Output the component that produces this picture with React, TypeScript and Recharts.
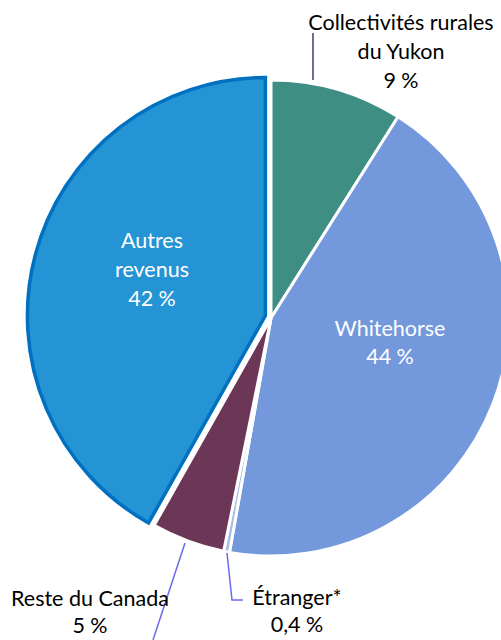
import React from "react";
import { PieChart, Pie, Cell } from "recharts";

const categories = ["Collectivités rurales du Yukon", "Whitehorse", "Étranger*", "Reste du Canada", "Autres revenus"];
const values = [9, 44, 0.4, 5, 42];
const valueLabels = ["9 %", "44 %", "0,4 %", "5 %", "42 %"];
const colors = ["#3E8E84", "#7498DC", "#A9BCE8", "#6C3756", "#2594D5"];

const data = categories.map((name, i) => ({ name, value: values[i] }));

const FONT = "Lato, 'Open Sans', sans-serif";
const FS = 21.5;
const EXPLODED = 4;

const renderLabel = (p: any) => {
  const { cx, cy, index } = p;
  const t = (x: number, y: number, s: string, fill: string, key: string) => (
    <text key={key} x={cx + x} y={cy + y} textAnchor="middle" dominantBaseline="central" fill={fill} fontSize={FS} fontFamily={FONT}>
      {s}
    </text>
  );
  if (index === 0) {
    return (
      <g>
        <line x1={cx + 42} y1={cy - 285} x2={cx + 42} y2={cy - 238} stroke="#3B3B7A" strokeWidth={1.5} />
        {t(130, -296, "Collectivités rurales", "#000", "a")}
        {t(130, -267, "du Yukon", "#000", "b")}
        {t(130, -238, valueLabels[0], "#000", "c")}
      </g>
    );
  }
  if (index === 1) {
    return (
      <g>
        {t(119, 10, "Whitehorse", "#fff", "a")}
        {t(119, 38, valueLabels[1], "#fff", "b")}
      </g>
    );
  }
  if (index === 2) {
    return (
      <g>
        <polyline points={`${cx - 44},${cy + 235} ${cx - 39},${cy + 282} ${cx - 28},${cy + 282}`} fill="none" stroke="#6A6AF0" strokeWidth={1.5} />
        {t(26, 279, "Étranger*", "#000", "a")}
        {t(26, 306, valueLabels[2], "#000", "b")}
      </g>
    );
  }
  if (index === 3) {
    return (
      <g>
        <line x1={cx - 86} y1={cy + 225} x2={cx - 118} y2={cy + 322} stroke="#6A6AF0" strokeWidth={1.5} />
        {t(-181, 280, "Reste du Canada", "#000", "a")}
        {t(-181, 307, valueLabels[3], "#000", "b")}
      </g>
    );
  }
  return (
    <g>
      {t(-119, -78, "Autres", "#fff", "a")}
      {t(-119, -49, "revenus", "#fff", "b")}
      {t(-119, -20, valueLabels[4], "#fff", "c")}
    </g>
  );
};

export default function App() {
  const cx = 271;
  const cy = 318;
  return (
    <div style={{ position: "absolute", left: 0, top: 0, background: "#fff" }}>
      <PieChart width={501} height={640} margin={{ top: 0, right: 0, bottom: 0, left: 0 }}>
        <Pie
          data={data}
          dataKey="value"
          nameKey="name"
          cx={cx}
          cy={cy}
          outerRadius={238}
          startAngle={90}
          endAngle={-270}
          isAnimationActive={false}
          stroke="#fff"
          strokeWidth={3}
          label={renderLabel}
          labelLine={false}
        >
          {data.map((d, i) => (
            <Cell key={d.name} fill={i === 4 ? "transparent" : colors[i]} stroke={i === 4 ? "none" : "#fff"} strokeWidth={3} />
          ))}
        </Pie>
        <Pie
          data={data}
          dataKey="value"
          nameKey="name"
          cx={cx - EXPLODED * 1.4}
          cy={cy - EXPLODED * 0.6}
          outerRadius={238}
          startAngle={90}
          endAngle={-270}
          isAnimationActive={false}
          label={false}
          labelLine={false}
        >
          {data.map((d, i) => (
            <Cell key={d.name} fill={i === 4 ? colors[4] : "transparent"} stroke={i === 4 ? "#0070C0" : "none"} strokeWidth={i === 4 ? 3.5 : 0} />
          ))}
        </Pie>
      </PieChart>
    </div>
  );
}
